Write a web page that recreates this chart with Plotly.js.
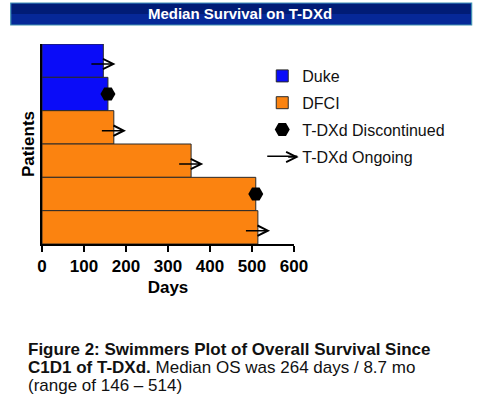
<!DOCTYPE html>
<html>
<head>
<meta charset="utf-8">
<script src="https://cdn.plot.ly/plotly-3.0.1.min.js"></script>
<style>html,body{margin:0;padding:0;background:#fff;}#chart{width:480px;height:397px;}</style>
</head>
<body>
<div id="chart"></div>
<script>
// ---- data ----
const patientIdx = [0, 1, 2, 3, 4, 5];
const days = [146, 157, 171, 355, 509, 514];
const site = ['Duke', 'Duke', 'DFCI', 'DFCI', 'DFCI', 'DFCI'];
const status = ['Ongoing', 'Discontinued', 'Ongoing', 'Ongoing', 'Discontinued', 'Ongoing'];
const xTicks = [0, 100, 200, 300, 400, 500, 600];
const captionLines = [
  '<b>Figure 2: Swimmers Plot of Overall Survival Since</b>',
  '<b>C1D1 of T-DXd.</b> Median OS was 264 days / 8.7 mo',
  '(range of 146 \u2013 514)'
];

const FONT = 'Liberation Sans, Arial, sans-serif';

function pick(cond) {
  const xs = [], ys = [];
  patientIdx.forEach((p, i) => { if (cond(i)) { xs.push(days[i]); ys.push(p); } });
  return {xs, ys};
}
const duke = pick(i => site[i] === 'Duke');
const dfci = pick(i => site[i] === 'DFCI');
const disc = pick(i => status[i] === 'Discontinued');
const ong = pick(i => status[i] === 'Ongoing');

const traces = [
  {type: 'bar', orientation: 'h', name: 'Duke', x: duke.xs, y: duke.ys, base: 0, width: 1,
   marker: {color: '#0a0cf8', line: {color: '#2a2a2a', width: 1}}, legendgroup: 'a'},
  {type: 'bar', orientation: 'h', name: 'DFCI', x: dfci.xs, y: dfci.ys, base: 0, width: 1,
   marker: {color: '#fb8310', line: {color: '#2a2a2a', width: 1}}, legendgroup: 'b'},
  {type: 'scatter', mode: 'markers', name: 'T-DXd Discontinued', x: disc.xs, y: disc.ys,
   marker: {symbol: 'hexagon2', size: 15, color: '#000'}, legendgroup: 'c', cliponaxis: false},
  {type: 'scatter', mode: 'lines', name: 'T-DXd Ongoing', x: [null], y: [null],
   line: {color: '#000', width: 1.5}, legendgroup: 'd'}
];

const annotations = [];
ong.xs.forEach((d, k) => {
  annotations.push({x: d + 29, y: ong.ys[k] + 0.1, ax: d - 32, ay: ong.ys[k] + 0.1,
    xref: 'x', yref: 'y', axref: 'x', ayref: 'y', text: '', showarrow: true,
    arrowhead: 5, arrowsize: 1.35, arrowwidth: 1.5, arrowcolor: '#000'});
});
// arrowhead on the legend's "Ongoing" line
annotations.push({xref: 'paper', yref: 'paper', x: 1.0185, y: 0.435, ax: -12, ay: 0, text: '',
  showarrow: true, arrowhead: 5, arrowsize: 1.35, arrowwidth: 1.5, arrowcolor: '#000'});
const capY = [-0.47, -0.56, -0.65];
captionLines.forEach((t, k) => {
  annotations.push({xref: 'paper', yref: 'paper', x: -0.063, y: capY[k], xanchor: 'left', yanchor: 'top',
    text: t, showarrow: false, align: 'left', font: {family: FONT, size: 17, color: '#111'}});
});

const layout = {
  width: 480, height: 397,
  margin: {l: 42, r: 186, t: 44, b: 153},
  paper_bgcolor: '#fff', plot_bgcolor: '#fff',
  font: {family: FONT, color: '#111'},
  barmode: 'overlay', bargap: 0,
  title: {text: '<b>Median Survival on T-DXd</b>', font: {family: FONT, size: 15, color: '#fff'},
    x: 0.5, xref: 'container', xanchor: 'center', y: 1 - 14 / 397, yref: 'container', yanchor: 'middle'},
  shapes: [
    {type: 'rect', xref: 'paper', yref: 'paper', x0: -0.124, x1: 1.705, y0: 1.095, y1: 1.205,
     fillcolor: '#062898', line: {color: '#3f90b0', width: 1.2}, layer: 'below'},
    {type: 'rect', xref: 'paper', yref: 'paper', x0: -0.12, x1: 1.70, y0: 1.15, y1: 1.2,
     fillcolor: '#011c76', line: {width: 0}, layer: 'below'}
  ],
  xaxis: {range: [0, 600], tickvals: xTicks, ticktext: xTicks.map(String), ticks: 'outside', ticklen: 6, tickwidth: 2,
    tickcolor: '#000', showline: true, linewidth: 2, linecolor: '#000', showgrid: false, zeroline: false,
    tickfont: {family: FONT, size: 17, color: '#000', weight: 'bold'},
    title: {text: '<b>Days</b>', font: {family: FONT, size: 17, color: '#000'}, standoff: 6}},
  yaxis: {range: [5.5, -0.5], showticklabels: false, ticks: '', showline: true, linewidth: 2, linecolor: '#000',
    showgrid: false, zeroline: false,
    title: {text: '<b>Patients</b>', font: {family: FONT, size: 17, color: '#000'}, standoff: 1}},
  showlegend: true,
  legend: {x: 0.874, y: 0.925, xanchor: 'left', yanchor: 'top', font: {family: FONT, size: 16, color: '#111'},
    bgcolor: 'rgba(0,0,0,0)', traceorder: 'grouped', tracegroupgap: 3},
  annotations: annotations
};

Plotly.newPlot('chart', traces, layout, {displayModeBar: false, staticPlot: true});
</script>
</body>
</html>
